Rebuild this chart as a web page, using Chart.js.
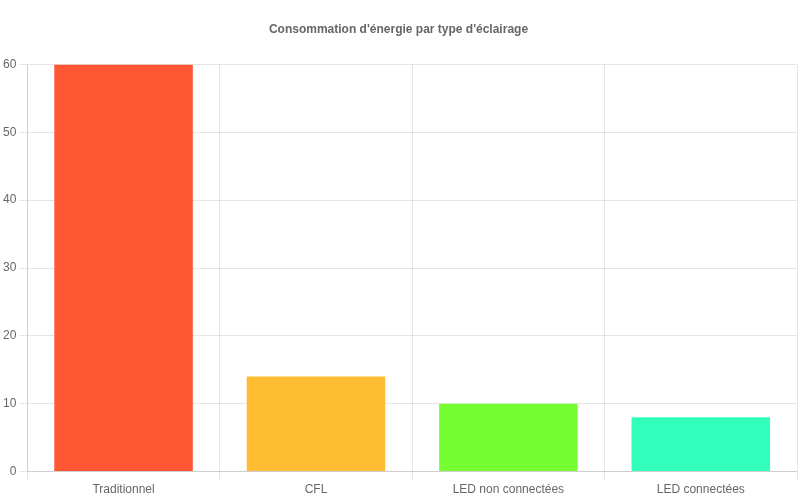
<!DOCTYPE html>
<html>
<head>
<meta charset="utf-8">
<script src="https://cdn.jsdelivr.net/npm/chart.js@4"></script>
<style>
  body { margin: 0; background: #fff; }
  #wrap { width: 800px; height: 500px; }
</style>
</head>
<body>
<div id="wrap"><canvas id="c"></canvas></div>
<script>
const categories = ['Traditionnel', 'CFL', 'LED non connectées', 'LED connectées'];
const consumption = [60, 14, 10, 8];
const barColors = ['#FF5733', '#FFBD33', '#75FF33', '#33FFBD'];

Chart.defaults.font.family = '"Liberation Sans", Arial, sans-serif';
Chart.defaults.color = '#666';

new Chart(document.getElementById('c'), {
    type: 'bar',
    data: {
        labels: categories,
        datasets: [{
            label: 'Consommation',
            data: consumption,
            backgroundColor: barColors,
            barPercentage: 0.72,
            categoryPercentage: 1.0,
        }],
    },
    options: {
        responsive: true,
        maintainAspectRatio: false,
        animation: false,
        layout: { padding: { top: 8, right: 3 } },
        plugins: {
            legend: { display: false },
            title: {
                display: true,
                text: "Consommation d'énergie par type d'éclairage",
                font: { size: 12, weight: 'bold' },
                color: '#666',
                padding: { top: 14, bottom: 28 },
            },
        },
        scales: {
            y: {
                min: 0,
                max: 60,
                ticks: { stepSize: 10, font: { size: 12 } },
            },
            x: {
                ticks: { font: { size: 12 } },
            },
        },
    },
});
</script>
</body>
</html>
